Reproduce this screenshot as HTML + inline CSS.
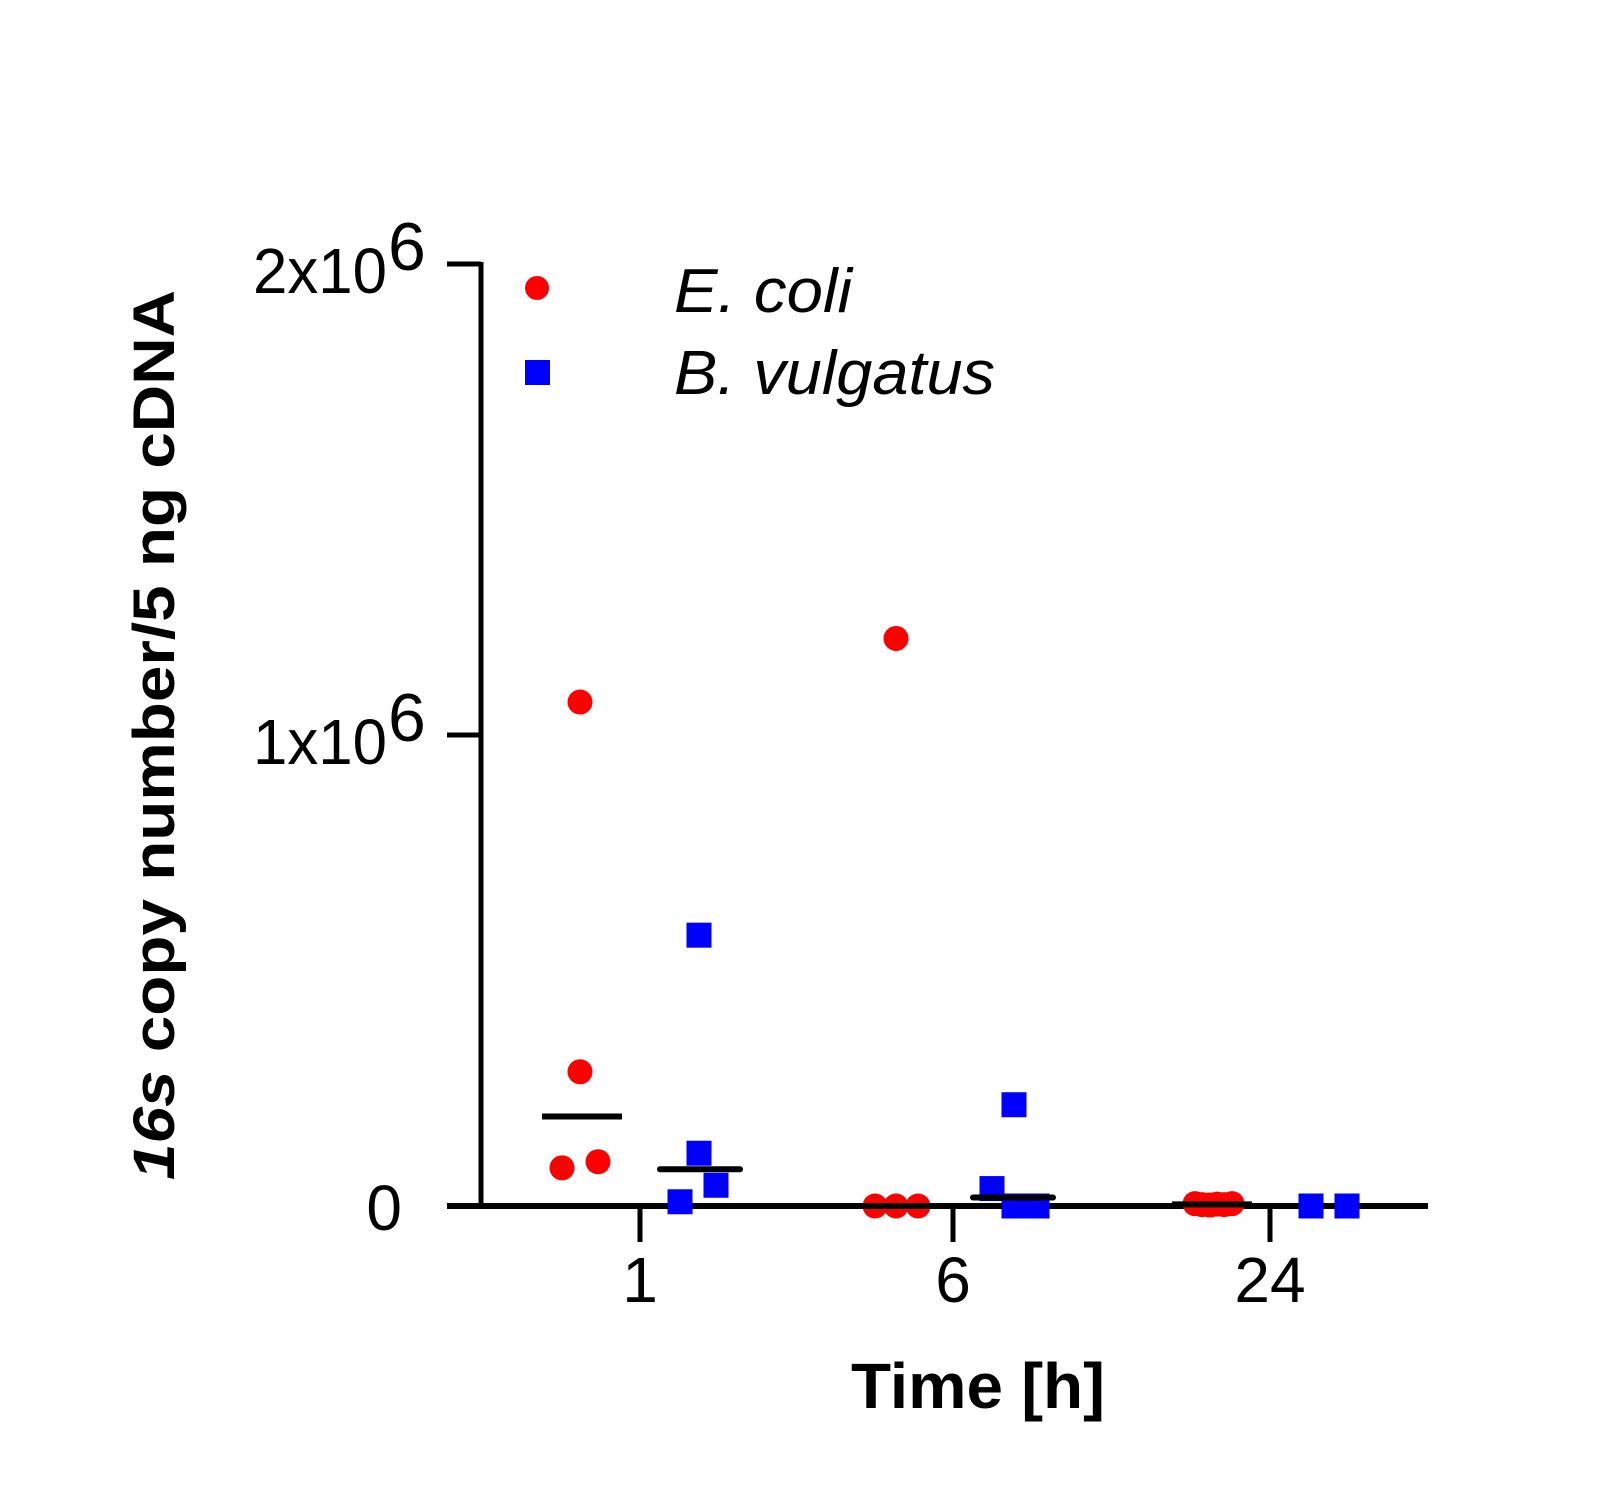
<!DOCTYPE html>
<html><head><meta charset="utf-8"><style>
html,body{margin:0;padding:0;background:#fff;}
svg{display:block;}
</style></head><body>
<svg id="chart" width="1622" height="1495" viewBox="0 0 1622 1495" xmlns="http://www.w3.org/2000/svg" font-family="'Liberation Sans', Arial, sans-serif">
<g id="axes"></g>
<g id="marks"></g>
<text transform="translate(174,735) rotate(-90)" text-anchor="middle" font-weight="bold" font-size="58" textLength="890" lengthAdjust="spacingAndGlyphs"><tspan font-style="italic">16s</tspan> copy number/5 ng cDNA</text>
<text x="978" y="1408" text-anchor="middle" font-weight="bold" font-size="64" textLength="254" lengthAdjust="spacingAndGlyphs">Time [h]</text>
<g>
<circle cx="537" cy="288" r="12" fill="#ff0000"/>
<text x="674" y="312" font-size="62" font-style="italic" textLength="178" lengthAdjust="spacingAndGlyphs">E. coli</text>
<rect x="525" y="360" width="25" height="25" fill="#0000ff"/>
<text x="674" y="394" font-size="62" font-style="italic" textLength="321" lengthAdjust="spacingAndGlyphs">B. vulgatus</text>
</g>
</svg>
<script>
const categories = ["1", "6", "24"];
const yTickValues = [0, 1000000, 2000000];
const yTickLabels = ["0", "1x10", "2x10"];
const ecoliValues = [[1070000, 285000, 81000, 94000], [1205000, 0, 0, 0], [5000, 3000, 2000, 4000, 3000, 5000]];
const bvulgatusValues = [[575000, 112000, 9000, 44000], [215000, 37000, 0, 0], [0, 0]];
const ecoliMedians = [190000, 0, 3500];
const bvulgatusMedians = [78000, 18000, 0];

const NS = "http://www.w3.org/2000/svg";
const x0 = 481, y0 = 1206, yTop = 264;
const yScale = v => y0 - (v / 2000000) * (y0 - yTop);
const xCat = i => [640, 953, 1270][i];
const ecoliJitter = [[-60, -60, -78, -42], [-57, -78, -57, -35], [-75, -68, -60, -53, -46, -38]];
const bvJitter = [[59, 59, 40, 76], [61, 39, 61, 84], [41, 77]];
function mk(tag, attrs, parent) { const e = document.createElementNS(NS, tag); for (const k in attrs) e.setAttribute(k, attrs[k]); parent.appendChild(e); return e; }
const axes = document.getElementById('axes'), marks = document.getElementById('marks');

let el = mk('line', {x1: x0, y1: yTop - 2, x2: x0, y2: y0, stroke: '#000', 'stroke-width': 5}, axes);


el = mk('line', {x1: 447, y1: y0, x2: 1428, y2: y0, stroke: '#000', 'stroke-width': 6}, axes);



yTickValues.forEach((v, i) => {
  const y = yScale(v);
  const t = mk('line', {x1: 447, y1: y, x2: x0, y2: y, stroke: '#000', 'stroke-width': 5}, axes);
  
  
  const tx = mk('text', {x: i === 0 ? 402 : 387, y: y + (i === 0 ? 24 : 29), 'text-anchor': 'end', 'font-size': 64}, axes);
  
  
  tx.textContent = yTickLabels[i];
  if (i > 0) {
    tx.setAttribute('textLength', 134);
    tx.setAttribute('lengthAdjust', 'spacingAndGlyphs');
    const sup = mk('text', {x: 388, y: y + 6, 'font-size': 68}, axes);
    
    
    sup.textContent = "6";
  }
});

categories.forEach((c, i) => {
  const x = xCat(i);
  const t = mk('line', {x1: x, y1: y0, x2: x, y2: 1242, stroke: '#000', 'stroke-width': 5}, axes);
  
  
  const tx = mk('text', {x: x, y: 1302, 'text-anchor': 'middle', 'font-size': 64}, axes);
  
  
  tx.textContent = c;
});

ecoliValues.forEach((arr, i) => arr.forEach((v, j) => {
  const c = mk('circle', {cx: xCat(i) + ecoliJitter[i][j], cy: yScale(v), r: 12.5, fill: '#ff0000'}, marks);
  
  
}));
bvulgatusValues.forEach((arr, i) => arr.forEach((v, j) => {
  const r = mk('rect', {x: xCat(i) + bvJitter[i][j] - 12.5, y: yScale(v) - 12.5, width: 25, height: 25, fill: '#0000ff'}, marks);
  
  
}));
ecoliMedians.forEach((v, i) => {
  const cx = xCat(i) - 58;
  const l = mk('line', {x1: cx - 40, y1: yScale(v), x2: cx + 40, y2: yScale(v), stroke: '#000', 'stroke-width': 6}, marks);
  
  
});
bvulgatusMedians.forEach((v, i) => {
  if (i === 2) return;
  const cx = xCat(i) + 60;
  const l = mk('line', {x1: cx - 40, y1: yScale(v), x2: cx + 40, y2: yScale(v), stroke: '#000', 'stroke-width': 6, 'stroke-linecap': 'round'}, marks);
  
  
});
</script>
</body></html>
